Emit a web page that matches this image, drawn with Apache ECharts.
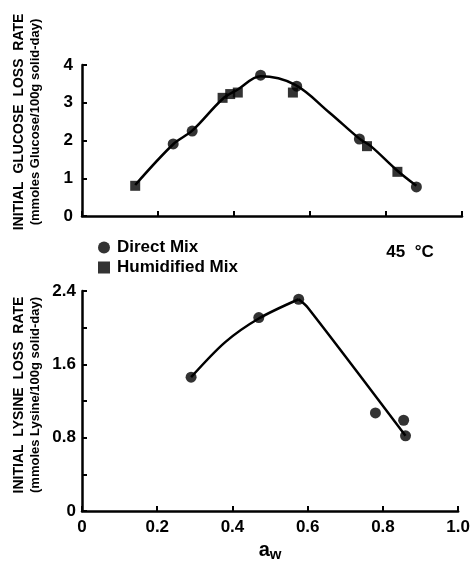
<!DOCTYPE html>
<html><head><meta charset="utf-8">
<script src="https://cdn.jsdelivr.net/npm/echarts@6/dist/echarts.min.js"></script>
<style>html,body{margin:0;padding:0;background:#fff}#c{width:473px;height:563px}</style>
</head><body><div id="c"></div>
<script>
// ---- data ----
const glucoseDirectX = [0.24, 0.29, 0.47, 0.565, 0.73, 0.88];
const glucoseDirectY = [1.91, 2.25, 3.73, 3.44, 2.04, 0.77];
const glucoseHumidX = [0.14, 0.37, 0.39, 0.41, 0.555, 0.75, 0.83];
const glucoseHumidY = [0.80, 3.13, 3.23, 3.27, 3.27, 1.85, 1.17];
const glucoseCurveX = [0.14, 0.24, 0.29, 0.37, 0.41, 0.47, 0.56, 0.65, 0.73, 0.76, 0.83, 0.88];
const glucoseCurveY = [0.82, 1.90, 2.26, 3.10, 3.35, 3.70, 3.48, 2.75, 2.05, 1.85, 1.20, 0.80];
const lysineDirectX = [0.29, 0.47, 0.576, 0.78, 0.855, 0.86];
const lysineDirectY = [1.46, 2.11, 2.31, 1.07, 0.99, 0.82];
const lysineRiseX = [0.29, 0.38, 0.47, 0.576];
const lysineRiseY = [1.46, 1.84, 2.10, 2.31];
const lysineFallX = [0.576, 0.60, 0.86];
const lysineFallY = [2.31, 2.22, 0.82];
const xTicks = [0, 0.2, 0.4, 0.6, 0.8, 1.0];
const glucoseTicks = [0, 1, 2, 3, 4];
const lysineLabeledTicks = [0, 0.8, 1.6, 2.4];

const pair = (xs, ys) => xs.map((x, i) => [x, ys[i]]);
const FONT = 'Liberation Sans';
const axisLine = {lineStyle: {color: '#000', width: 2.5}};
const axisTick = {inside: true, length: 5, lineStyle: {color: '#000', width: 2}};
const lbl = {color: '#000', fontSize: 17, fontWeight: 'bold', fontFamily: FONT};

const chart = echarts.init(document.getElementById('c'));
chart.setOption({
  backgroundColor: '#fff',
  animation: false,
  grid: [
    {left: 82, top: 65, width: 380, height: 151},
    {left: 82, top: 291, width: 380, height: 223}
  ],
  xAxis: [
    {gridIndex: 0, type: 'value', min: 0, max: 1, interval: 0.2,
     axisLine, axisTick, axisLabel: {show: false}, splitLine: {show: false}},
    {gridIndex: 1, type: 'value', min: 0, max: 1, interval: 0.2,
     axisLine, axisTick, splitLine: {show: false},
     axisLabel: Object.assign({}, lbl, {margin: 8,
       formatter: v => { const t = xTicks.find(k => Math.abs(k - v) < 1e-6); return t === undefined ? '' : (t === 0 ? '0' : t.toFixed(1)); }}),
     name: '{a|a}{w|w}', nameLocation: 'middle', nameGap: 28,
     nameTextStyle: {rich: {
       a: {fontSize: 20, fontWeight: 'bold', fontFamily: FONT, color: '#000'},
       w: {fontSize: 15, fontWeight: 'bold', fontFamily: FONT, color: '#000', verticalAlign: 'bottom', padding: [8, 0, 0, 0]}
     }}}
  ],
  yAxis: [
    {gridIndex: 0, type: 'value', min: 0, max: 4, interval: 1,
     axisLine: Object.assign({show: true}, axisLine), axisTick, splitLine: {show: false},
     axisLabel: Object.assign({}, lbl, {margin: 9,
       formatter: v => glucoseTicks.includes(Math.round(v)) ? String(Math.round(v)) : ''})},
    {gridIndex: 1, type: 'value', min: 0, max: 2.4, interval: 0.4,
     axisLine: Object.assign({show: true}, axisLine), axisTick, splitLine: {show: false},
     axisLabel: Object.assign({}, lbl, {margin: 6,
       formatter: v => { const t = lysineLabeledTicks.find(k => Math.abs(k - v) < 1e-6); return t === undefined ? '' : (t === 0 ? '0' : t.toFixed(1)); }})}
  ],
  legend: {
    orient: 'vertical', left: 93, top: 234, itemGap: 3, itemWidth: 12, itemHeight: 12,
    textStyle: {color: '#000', fontSize: 17, fontWeight: 'bold', fontFamily: FONT, padding: [0, 0, 0, 2]},
    data: [{name: 'Direct Mix', icon: 'circle'}, {name: 'Humidified Mix', icon: 'rect'}]
  },
  graphic: [
    {type: 'text', x: 19, y: 122, rotation: Math.PI / 2,
     style: {text: 'INITIAL  GLUCOSE  LOSS  RATE', fill: '#000', font: 'bold 14px ' + FONT, textAlign: 'center', textVerticalAlign: 'middle'}},
    {type: 'text', x: 35, y: 122, rotation: Math.PI / 2,
     style: {text: '(mmoles Glucose/100g solid-day)', fill: '#000', font: 'bold 13px ' + FONT, textAlign: 'center', textVerticalAlign: 'middle'}},
    {type: 'text', x: 19, y: 395, rotation: Math.PI / 2,
     style: {text: 'INITIAL  LYSINE  LOSS  RATE', fill: '#000', font: 'bold 14px ' + FONT, textAlign: 'center', textVerticalAlign: 'middle'}},
    {type: 'text', x: 35, y: 395, rotation: Math.PI / 2,
     style: {text: '(mmoles Lysine/100g solid-day)', fill: '#000', font: 'bold 13px ' + FONT, textAlign: 'center', textVerticalAlign: 'middle'}},
    {type: 'text', x: 410, y: 252,
     style: {text: '45  °C', fill: '#000', font: 'bold 17px ' + FONT, textAlign: 'center', textVerticalAlign: 'middle'}}
  ],
  series: [
    {type: 'line', xAxisIndex: 0, yAxisIndex: 0, data: pair(glucoseCurveX, glucoseCurveY),
     smooth: 0.35, showSymbol: false, lineStyle: {color: '#000', width: 2.5}, silent: true},
    {name: 'Direct Mix', type: 'scatter', xAxisIndex: 0, yAxisIndex: 0, data: pair(glucoseDirectX, glucoseDirectY),
     symbol: 'circle', symbolSize: 11, itemStyle: {color: '#000'}},
    {name: 'Humidified Mix', type: 'scatter', xAxisIndex: 0, yAxisIndex: 0, data: pair(glucoseHumidX, glucoseHumidY),
     symbol: 'rect', symbolSize: 10, itemStyle: {color: '#000'}},
    {type: 'line', xAxisIndex: 1, yAxisIndex: 1, data: pair(lysineRiseX, lysineRiseY),
     smooth: 0.3, showSymbol: false, lineStyle: {color: '#000', width: 2.5}, silent: true},
    {type: 'line', xAxisIndex: 1, yAxisIndex: 1, data: pair(lysineFallX, lysineFallY),
     smooth: 0.3, showSymbol: false, lineStyle: {color: '#000', width: 2.5}, silent: true},
    {name: 'Direct Mix', type: 'scatter', xAxisIndex: 1, yAxisIndex: 1, data: pair(lysineDirectX, lysineDirectY),
     symbol: 'circle', symbolSize: 11, itemStyle: {color: '#000'}}
  ]
});
</script></body></html>
